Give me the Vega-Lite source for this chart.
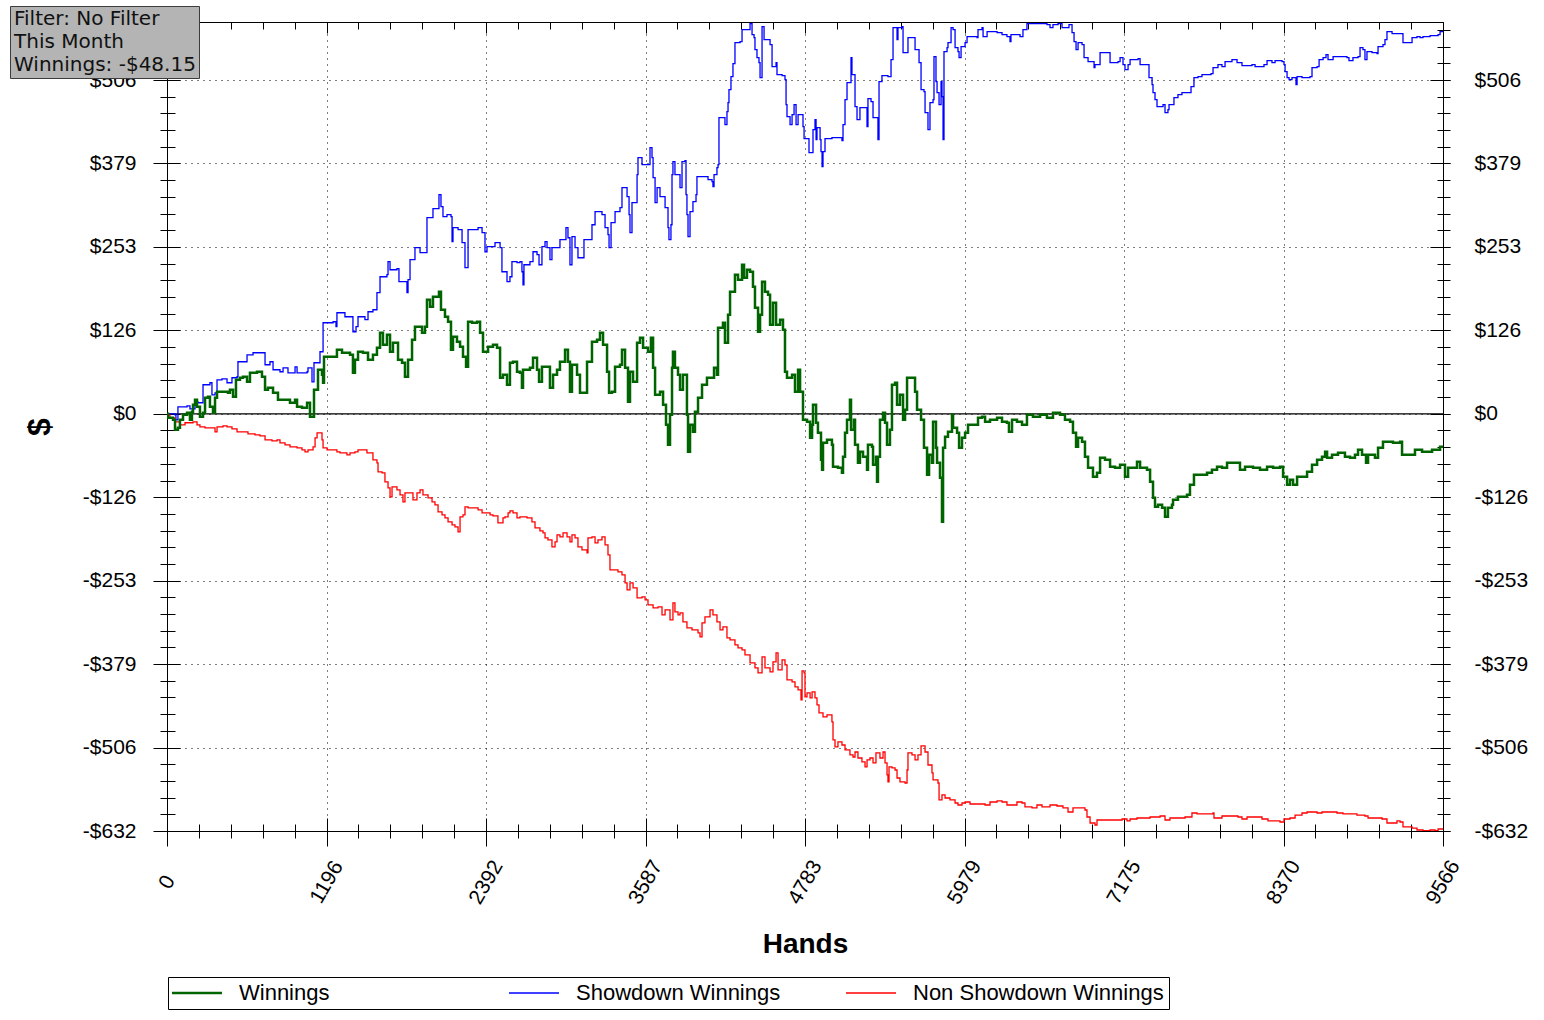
{
  "$schema": "https://vega.github.io/schema/vega-lite/v6.json",
  "width": 1276,
  "height": 809,
  "autosize": "none",
  "padding": {"left": 167, "top": 22, "right": 101, "bottom": 189},
  "background": "#ffffff",
  "datasets": {
    "sd": [
      {"h":0,"v":0},{"h":60,"v":-1.5},{"h":67,"v":-9.1},{"h":82,"v":10.6},{"h":150,"v":12.1},{"h":172,"v":7.6},{"h":210,"v":18.2},{"h":232,"v":16.7},{"h":270,"v":44.0},{"h":322,"v":47.0},{"h":337,"v":28.8},{"h":360,"v":31.8},{"h":375,"v":51.5},{"h":412,"v":53.0},{"h":450,"v":47.0},{"h":487,"v":54.6},{"h":525,"v":56.1},{"h":532,"v":78.8},{"h":570,"v":78.8},{"h":600,"v":89.4},{"h":645,"v":92.5},{"h":697,"v":92.5},{"h":735,"v":74.3},{"h":772,"v":78.8},{"h":795,"v":66.7},{"h":847,"v":63.7},{"h":870,"v":69.7},{"h":907,"v":62.1},{"h":960,"v":71.2},{"h":975,"v":62.1},{"h":1050,"v":63.7},{"h":1057,"v":69.7},{"h":1087,"v":48.5},{"h":1102,"v":77.3},{"h":1147,"v":94.0},{"h":1170,"v":137.9},{"h":1222,"v":137.9},{"h":1245,"v":139.4},{"h":1267,"v":131.9},{"h":1274,"v":153.1},{"h":1319,"v":153.1},{"h":1334,"v":147.0},{"h":1387,"v":147.0},{"h":1394,"v":124.3},{"h":1417,"v":131.9},{"h":1432,"v":147.0},{"h":1469,"v":147.0},{"h":1484,"v":142.5},{"h":1507,"v":154.6},{"h":1544,"v":157.6},{"h":1574,"v":183.4},{"h":1597,"v":207.6},{"h":1649,"v":210.7},{"h":1657,"v":230.4},{"h":1672,"v":218.2},{"h":1724,"v":219.8},{"h":1739,"v":200.1},{"h":1784,"v":200.1},{"h":1799,"v":183.4},{"h":1807,"v":203.1},{"h":1822,"v":233.4},{"h":1859,"v":251.6},{"h":1897,"v":244.0},{"h":1934,"v":244.0},{"h":1949,"v":297.1},{"h":1972,"v":297.1},{"h":1994,"v":310.7},{"h":2039,"v":331.9},{"h":2054,"v":313.7},{"h":2069,"v":298.6},{"h":2099,"v":301.6},{"h":2129,"v":298.6},{"h":2137,"v":260.7},{"h":2144,"v":281.9},{"h":2182,"v":278.9},{"h":2212,"v":259.2},{"h":2234,"v":221.3},{"h":2257,"v":278.9},{"h":2294,"v":278.9},{"h":2332,"v":281.9},{"h":2362,"v":274.3},{"h":2384,"v":245.5},{"h":2399,"v":253.1},{"h":2459,"v":259.2},{"h":2497,"v":251.6},{"h":2511,"v":215.2},{"h":2549,"v":200.1},{"h":2571,"v":207.6},{"h":2586,"v":230.4},{"h":2624,"v":228.9},{"h":2646,"v":230.4},{"h":2661,"v":215.2},{"h":2669,"v":195.5},{"h":2676,"v":225.8},{"h":2721,"v":230.4},{"h":2744,"v":245.5},{"h":2774,"v":241.0},{"h":2789,"v":225.8},{"h":2811,"v":253.1},{"h":2834,"v":260.7},{"h":2849,"v":251.6},{"h":2871,"v":233.4},{"h":2886,"v":251.6},{"h":2924,"v":251.6},{"h":2946,"v":263.7},{"h":2969,"v":263.7},{"h":2991,"v":281.9},{"h":3006,"v":266.7},{"h":3021,"v":225.8},{"h":3036,"v":268.3},{"h":3059,"v":251.6},{"h":3081,"v":236.4},{"h":3119,"v":236.4},{"h":3126,"v":263.7},{"h":3171,"v":263.7},{"h":3186,"v":286.4},{"h":3209,"v":306.2},{"h":3261,"v":301.6},{"h":3284,"v":281.9},{"h":3306,"v":271.3},{"h":3314,"v":251.6},{"h":3329,"v":289.5},{"h":3359,"v":306.2},{"h":3396,"v":312.2},{"h":3411,"v":342.5},{"h":3434,"v":342.5},{"h":3449,"v":328.9},{"h":3464,"v":301.6},{"h":3471,"v":274.3},{"h":3486,"v":319.8},{"h":3516,"v":319.8},{"h":3524,"v":362.2},{"h":3531,"v":388.0},{"h":3561,"v":377.4},{"h":3599,"v":377.4},{"h":3621,"v":403.1},{"h":3636,"v":388.0},{"h":3644,"v":357.7},{"h":3659,"v":319.8},{"h":3674,"v":342.5},{"h":3696,"v":328.9},{"h":3719,"v":328.9},{"h":3734,"v":312.2},{"h":3756,"v":281.9},{"h":3763,"v":263.7},{"h":3778,"v":286.4},{"h":3786,"v":362.2},{"h":3793,"v":381.9},{"h":3808,"v":362.2},{"h":3831,"v":362.2},{"h":3846,"v":342.5},{"h":3861,"v":381.9},{"h":3883,"v":383.4},{"h":3891,"v":331.9},{"h":3898,"v":301.6},{"h":3906,"v":268.3},{"h":3921,"v":306.2},{"h":3943,"v":321.3},{"h":3966,"v":331.9},{"h":3973,"v":359.2},{"h":4056,"v":354.7},{"h":4086,"v":351.6},{"h":4093,"v":344.0},{"h":4101,"v":362.2},{"h":4123,"v":372.8},{"h":4131,"v":377.4},{"h":4138,"v":448.6},{"h":4168,"v":448.6},{"h":4183,"v":438.0},{"h":4198,"v":457.7},{"h":4206,"v":471.4},{"h":4213,"v":491.1},{"h":4228,"v":510.8},{"h":4243,"v":530.5},{"h":4258,"v":562.3},{"h":4296,"v":563.8},{"h":4311,"v":582.0},{"h":4356,"v":582.0},{"h":4371,"v":591.0},{"h":4386,"v":574.4},{"h":4401,"v":569.9},{"h":4408,"v":551.7},{"h":4423,"v":539.6},{"h":4438,"v":532.0},{"h":4446,"v":509.2},{"h":4461,"v":586.5},{"h":4476,"v":566.8},{"h":4506,"v":566.8},{"h":4521,"v":559.3},{"h":4536,"v":525.9},{"h":4566,"v":532.0},{"h":4573,"v":513.8},{"h":4611,"v":512.3},{"h":4633,"v":506.2},{"h":4641,"v":468.3},{"h":4648,"v":450.1},{"h":4671,"v":438.0},{"h":4686,"v":453.2},{"h":4701,"v":468.3},{"h":4716,"v":438.0},{"h":4731,"v":453.2},{"h":4761,"v":453.2},{"h":4768,"v":435.0},{"h":4776,"v":416.8},{"h":4806,"v":416.8},{"h":4813,"v":395.6},{"h":4836,"v":395.6},{"h":4843,"v":430.4},{"h":4858,"v":445.6},{"h":4866,"v":415.3},{"h":4873,"v":433.5},{"h":4896,"v":415.3},{"h":4903,"v":397.1},{"h":4911,"v":374.4},{"h":4918,"v":397.1},{"h":4933,"v":416.8},{"h":4985,"v":418.3},{"h":5060,"v":413.8},{"h":5068,"v":438.0},{"h":5083,"v":475.9},{"h":5098,"v":501.7},{"h":5120,"v":501.7},{"h":5128,"v":539.6},{"h":5135,"v":513.8},{"h":5150,"v":513.8},{"h":5158,"v":465.3},{"h":5173,"v":445.6},{"h":5188,"v":445.6},{"h":5195,"v":463.8},{"h":5233,"v":463.8},{"h":5248,"v":435.0},{"h":5255,"v":477.4},{"h":5278,"v":472.9},{"h":5293,"v":448.6},{"h":5323,"v":448.6},{"h":5330,"v":415.3},{"h":5338,"v":503.2},{"h":5360,"v":512.3},{"h":5405,"v":510.8},{"h":5428,"v":536.5},{"h":5443,"v":585.0},{"h":5465,"v":585.0},{"h":5473,"v":566.8},{"h":5480,"v":585.0},{"h":5510,"v":586.5},{"h":5518,"v":547.1},{"h":5548,"v":547.1},{"h":5555,"v":569.9},{"h":5600,"v":569.9},{"h":5608,"v":551.7},{"h":5630,"v":551.7},{"h":5638,"v":532.0},{"h":5653,"v":491.1},{"h":5675,"v":488.0},{"h":5683,"v":456.2},{"h":5705,"v":430.4},{"h":5720,"v":471.4},{"h":5743,"v":475.9},{"h":5750,"v":541.1},{"h":5765,"v":503.2},{"h":5773,"v":486.5},{"h":5788,"v":468.3},{"h":5803,"v":503.2},{"h":5810,"v":480.4},{"h":5818,"v":415.3},{"h":5825,"v":548.6},{"h":5848,"v":554.7},{"h":5855,"v":562.3},{"h":5878,"v":585.0},{"h":5893,"v":582.0},{"h":5908,"v":554.7},{"h":5930,"v":548.6},{"h":5938,"v":539.6},{"h":5953,"v":556.2},{"h":5983,"v":562.3},{"h":5998,"v":571.4},{"h":6073,"v":569.9},{"h":6080,"v":582.0},{"h":6110,"v":585.0},{"h":6118,"v":571.4},{"h":6148,"v":579.0},{"h":6223,"v":577.4},{"h":6260,"v":574.4},{"h":6297,"v":571.4},{"h":6320,"v":563.8},{"h":6327,"v":574.4},{"h":6395,"v":571.4},{"h":6417,"v":582.0},{"h":6447,"v":591.0},{"h":6597,"v":589.6},{"h":6620,"v":585.0},{"h":6642,"v":589.6},{"h":6680,"v":591.0},{"h":6710,"v":585.0},{"h":6747,"v":585.0},{"h":6762,"v":589.6},{"h":6785,"v":577.4},{"h":6800,"v":563.8},{"h":6815,"v":551.7},{"h":6830,"v":562.3},{"h":6860,"v":559.3},{"h":6875,"v":539.6},{"h":6905,"v":533.5},{"h":6942,"v":533.5},{"h":6950,"v":524.4},{"h":6957,"v":528.9},{"h":6987,"v":528.9},{"h":6995,"v":547.1},{"h":7047,"v":547.1},{"h":7070,"v":532.0},{"h":7130,"v":533.5},{"h":7145,"v":539.6},{"h":7167,"v":528.9},{"h":7182,"v":521.4},{"h":7205,"v":528.9},{"h":7220,"v":536.5},{"h":7280,"v":538.0},{"h":7295,"v":528.9},{"h":7347,"v":528.9},{"h":7362,"v":509.2},{"h":7385,"v":498.6},{"h":7392,"v":486.5},{"h":7407,"v":475.9},{"h":7422,"v":465.3},{"h":7467,"v":468.3},{"h":7482,"v":456.2},{"h":7504,"v":460.7},{"h":7512,"v":468.3},{"h":7542,"v":468.3},{"h":7549,"v":478.9},{"h":7579,"v":483.5},{"h":7609,"v":486.5},{"h":7654,"v":486.5},{"h":7677,"v":495.6},{"h":7699,"v":509.2},{"h":7729,"v":510.8},{"h":7759,"v":513.8},{"h":7827,"v":515.3},{"h":7842,"v":524.4},{"h":7879,"v":528.9},{"h":7909,"v":525.9},{"h":7932,"v":533.5},{"h":7984,"v":536.5},{"h":8022,"v":532.0},{"h":8059,"v":527.4},{"h":8134,"v":528.9},{"h":8157,"v":525.9},{"h":8194,"v":525.9},{"h":8224,"v":528.9},{"h":8247,"v":535.0},{"h":8284,"v":532.0},{"h":8307,"v":535.0},{"h":8359,"v":533.5},{"h":8374,"v":528.9},{"h":8382,"v":518.3},{"h":8397,"v":509.2},{"h":8412,"v":506.2},{"h":8434,"v":509.2},{"h":8457,"v":509.2},{"h":8464,"v":498.6},{"h":8472,"v":510.8},{"h":8509,"v":509.2},{"h":8569,"v":510.8},{"h":8584,"v":524.4},{"h":8622,"v":525.9},{"h":8637,"v":536.5},{"h":8667,"v":539.6},{"h":8689,"v":544.1},{"h":8704,"v":536.5},{"h":8742,"v":541.1},{"h":8809,"v":541.1},{"h":8846,"v":539.6},{"h":8861,"v":535.0},{"h":8891,"v":539.6},{"h":8929,"v":541.1},{"h":8944,"v":554.7},{"h":8966,"v":551.7},{"h":8981,"v":536.5},{"h":8996,"v":548.6},{"h":9034,"v":547.1},{"h":9071,"v":545.6},{"h":9079,"v":556.2},{"h":9116,"v":559.3},{"h":9131,"v":566.8},{"h":9146,"v":579.0},{"h":9184,"v":575.9},{"h":9259,"v":575.9},{"h":9266,"v":562.3},{"h":9319,"v":562.3},{"h":9334,"v":569.9},{"h":9371,"v":571.4},{"h":9394,"v":569.9},{"h":9416,"v":571.4},{"h":9469,"v":572.9},{"h":9529,"v":574.4},{"h":9544,"v":579.0},{"h":9566,"v":580.5}
    ],
    "win": [
      {"h":0,"v":0},{"h":7,"v":-6.1},{"h":45,"v":-9.1},{"h":60,"v":-24.2},{"h":82,"v":-21.2},{"h":97,"v":-9.1},{"h":120,"v":-1.5},{"h":150,"v":1.5},{"h":172,"v":-9.1},{"h":187,"v":3.0},{"h":195,"v":13.6},{"h":210,"v":21.2},{"h":225,"v":10.6},{"h":247,"v":-4.5},{"h":270,"v":1.5},{"h":285,"v":24.2},{"h":307,"v":25.8},{"h":322,"v":10.6},{"h":345,"v":1.5},{"h":360,"v":24.2},{"h":375,"v":33.3},{"h":420,"v":33.3},{"h":457,"v":31.8},{"h":472,"v":36.4},{"h":495,"v":25.8},{"h":517,"v":51.5},{"h":547,"v":54.6},{"h":570,"v":56.1},{"h":600,"v":48.5},{"h":622,"v":62.1},{"h":675,"v":63.7},{"h":712,"v":56.1},{"h":735,"v":36.4},{"h":757,"v":39.4},{"h":795,"v":31.8},{"h":832,"v":21.2},{"h":870,"v":21.2},{"h":922,"v":16.7},{"h":960,"v":21.2},{"h":975,"v":10.6},{"h":1012,"v":9.1},{"h":1050,"v":16.7},{"h":1072,"v":-4.5},{"h":1095,"v":-4.5},{"h":1102,"v":36.4},{"h":1132,"v":66.7},{"h":1162,"v":59.1},{"h":1170,"v":47.0},{"h":1177,"v":86.4},{"h":1222,"v":86.4},{"h":1274,"v":97.0},{"h":1312,"v":92.5},{"h":1372,"v":89.4},{"h":1394,"v":62.1},{"h":1409,"v":81.8},{"h":1432,"v":94.0},{"h":1469,"v":92.5},{"h":1507,"v":81.8},{"h":1544,"v":89.4},{"h":1574,"v":100.0},{"h":1597,"v":122.8},{"h":1619,"v":104.6},{"h":1649,"v":119.7},{"h":1672,"v":94.0},{"h":1694,"v":107.6},{"h":1732,"v":81.8},{"h":1762,"v":77.3},{"h":1784,"v":56.1},{"h":1807,"v":81.8},{"h":1837,"v":112.2},{"h":1859,"v":131.9},{"h":1912,"v":122.8},{"h":1934,"v":131.9},{"h":1949,"v":172.8},{"h":1972,"v":162.2},{"h":1994,"v":177.3},{"h":2039,"v":184.9},{"h":2054,"v":157.6},{"h":2084,"v":147.0},{"h":2107,"v":139.4},{"h":2129,"v":97.0},{"h":2144,"v":116.7},{"h":2174,"v":109.1},{"h":2197,"v":101.5},{"h":2219,"v":86.4},{"h":2242,"v":71.2},{"h":2257,"v":139.4},{"h":2287,"v":137.9},{"h":2324,"v":139.4},{"h":2347,"v":122.8},{"h":2369,"v":94.0},{"h":2407,"v":101.5},{"h":2444,"v":104.6},{"h":2474,"v":100.0},{"h":2497,"v":54.6},{"h":2519,"v":59.1},{"h":2549,"v":44.0},{"h":2571,"v":77.3},{"h":2594,"v":78.8},{"h":2624,"v":63.7},{"h":2646,"v":62.1},{"h":2661,"v":39.4},{"h":2669,"v":66.7},{"h":2721,"v":69.7},{"h":2744,"v":84.9},{"h":2774,"v":66.7},{"h":2789,"v":48.5},{"h":2811,"v":71.2},{"h":2849,"v":71.2},{"h":2871,"v":39.4},{"h":2894,"v":59.1},{"h":2924,"v":66.7},{"h":2946,"v":78.8},{"h":2984,"v":97.0},{"h":3006,"v":78.8},{"h":3021,"v":33.3},{"h":3036,"v":74.3},{"h":3074,"v":59.1},{"h":3096,"v":31.8},{"h":3119,"v":31.8},{"h":3149,"v":78.8},{"h":3186,"v":109.1},{"h":3224,"v":112.2},{"h":3246,"v":122.8},{"h":3269,"v":104.6},{"h":3299,"v":63.7},{"h":3314,"v":31.8},{"h":3336,"v":33.3},{"h":3359,"v":71.2},{"h":3396,"v":74.3},{"h":3411,"v":97.0},{"h":3434,"v":69.7},{"h":3456,"v":18.2},{"h":3471,"v":63.7},{"h":3494,"v":48.5},{"h":3524,"v":107.6},{"h":3546,"v":115.2},{"h":3569,"v":100.0},{"h":3606,"v":94.0},{"h":3628,"v":115.2},{"h":3644,"v":69.7},{"h":3659,"v":28.8},{"h":3696,"v":33.3},{"h":3719,"v":13.6},{"h":3741,"v":-16.7},{"h":3756,"v":-47.0},{"h":3771,"v":-1.5},{"h":3786,"v":69.7},{"h":3793,"v":94.0},{"h":3808,"v":69.7},{"h":3831,"v":59.1},{"h":3846,"v":36.4},{"h":3868,"v":59.1},{"h":3898,"v":-1.5},{"h":3906,"v":-57.6},{"h":3921,"v":-16.7},{"h":3943,"v":-27.3},{"h":3958,"v":3.0},{"h":3981,"v":24.2},{"h":4011,"v":44.0},{"h":4048,"v":54.6},{"h":4086,"v":54.6},{"h":4101,"v":69.7},{"h":4123,"v":59.1},{"h":4131,"v":130.3},{"h":4168,"v":137.9},{"h":4183,"v":107.6},{"h":4206,"v":150.0},{"h":4221,"v":184.9},{"h":4243,"v":184.9},{"h":4258,"v":210.7},{"h":4281,"v":203.1},{"h":4311,"v":225.8},{"h":4326,"v":206.1},{"h":4348,"v":218.2},{"h":4371,"v":215.2},{"h":4393,"v":192.5},{"h":4408,"v":160.7},{"h":4431,"v":124.3},{"h":4446,"v":150.0},{"h":4461,"v":200.1},{"h":4483,"v":184.9},{"h":4506,"v":180.4},{"h":4521,"v":134.9},{"h":4543,"v":168.2},{"h":4566,"v":134.9},{"h":4596,"v":142.5},{"h":4618,"v":127.3},{"h":4633,"v":63.7},{"h":4648,"v":54.6},{"h":4686,"v":59.1},{"h":4708,"v":33.3},{"h":4731,"v":66.7},{"h":4746,"v":33.3},{"h":4768,"v":-9.1},{"h":4798,"v":-12.1},{"h":4821,"v":-36.4},{"h":4836,"v":-16.7},{"h":4843,"v":13.6},{"h":4866,"v":-13.6},{"h":4880,"v":-28.8},{"h":4903,"v":-69.7},{"h":4911,"v":-84.9},{"h":4918,"v":-44.0},{"h":4948,"v":-39.4},{"h":4985,"v":-47.0},{"h":4993,"v":-80.3},{"h":5030,"v":-81.8},{"h":5060,"v":-89.4},{"h":5068,"v":-65.2},{"h":5083,"v":-28.8},{"h":5098,"v":-9.1},{"h":5120,"v":21.2},{"h":5128,"v":-24.2},{"h":5150,"v":-9.1},{"h":5158,"v":-47.0},{"h":5180,"v":-74.3},{"h":5195,"v":-57.6},{"h":5218,"v":-65.2},{"h":5248,"v":-84.9},{"h":5255,"v":-47.0},{"h":5285,"v":-50.0},{"h":5293,"v":-77.3},{"h":5315,"v":-65.2},{"h":5323,"v":-103.1},{"h":5330,"v":-65.2},{"h":5345,"v":-9.1},{"h":5368,"v":1.5},{"h":5383,"v":-13.6},{"h":5398,"v":-47.0},{"h":5420,"v":-24.2},{"h":5435,"v":44.0},{"h":5458,"v":47.0},{"h":5473,"v":13.6},{"h":5495,"v":28.8},{"h":5518,"v":-9.1},{"h":5533,"v":6.1},{"h":5548,"v":54.6},{"h":5585,"v":54.6},{"h":5608,"v":33.3},{"h":5623,"v":6.1},{"h":5653,"v":-9.1},{"h":5675,"v":-51.5},{"h":5698,"v":-92.5},{"h":5713,"v":-62.1},{"h":5735,"v":-74.3},{"h":5743,"v":-12.1},{"h":5765,"v":-51.5},{"h":5773,"v":-74.3},{"h":5795,"v":-97.0},{"h":5810,"v":-163.7},{"h":5818,"v":-51.5},{"h":5833,"v":-34.9},{"h":5855,"v":-27.3},{"h":5885,"v":-1.5},{"h":5893,"v":-21.2},{"h":5923,"v":-28.8},{"h":5938,"v":-51.5},{"h":5960,"v":-36.4},{"h":5983,"v":-28.8},{"h":6005,"v":-16.7},{"h":6043,"v":-16.7},{"h":6080,"v":-6.1},{"h":6110,"v":-4.5},{"h":6133,"v":-12.1},{"h":6170,"v":-9.1},{"h":6223,"v":-6.1},{"h":6260,"v":-12.1},{"h":6297,"v":-13.6},{"h":6312,"v":-27.3},{"h":6335,"v":-9.1},{"h":6372,"v":-12.1},{"h":6410,"v":-16.7},{"h":6447,"v":-1.5},{"h":6492,"v":-4.5},{"h":6545,"v":-1.5},{"h":6597,"v":-6.1},{"h":6642,"v":1.5},{"h":6695,"v":-1.5},{"h":6732,"v":-9.1},{"h":6770,"v":-12.1},{"h":6792,"v":-28.8},{"h":6815,"v":-50.0},{"h":6830,"v":-36.4},{"h":6860,"v":-42.4},{"h":6882,"v":-65.2},{"h":6905,"v":-81.8},{"h":6942,"v":-95.5},{"h":6972,"v":-89.4},{"h":6995,"v":-66.7},{"h":7032,"v":-69.7},{"h":7070,"v":-80.3},{"h":7107,"v":-81.8},{"h":7145,"v":-77.3},{"h":7182,"v":-95.5},{"h":7205,"v":-81.8},{"h":7272,"v":-72.7},{"h":7295,"v":-81.8},{"h":7347,"v":-84.9},{"h":7370,"v":-103.1},{"h":7392,"v":-127.3},{"h":7407,"v":-141.0},{"h":7430,"v":-137.9},{"h":7460,"v":-142.5},{"h":7482,"v":-156.1},{"h":7504,"v":-142.5},{"h":7534,"v":-137.9},{"h":7542,"v":-130.3},{"h":7579,"v":-125.8},{"h":7647,"v":-122.8},{"h":7669,"v":-107.6},{"h":7699,"v":-92.5},{"h":7744,"v":-92.5},{"h":7797,"v":-89.4},{"h":7834,"v":-84.9},{"h":7872,"v":-80.3},{"h":7909,"v":-81.8},{"h":7947,"v":-74.3},{"h":7992,"v":-74.3},{"h":8044,"v":-84.9},{"h":8082,"v":-80.3},{"h":8142,"v":-81.8},{"h":8194,"v":-84.9},{"h":8247,"v":-80.3},{"h":8292,"v":-81.8},{"h":8344,"v":-80.3},{"h":8367,"v":-95.5},{"h":8397,"v":-107.6},{"h":8419,"v":-100.0},{"h":8442,"v":-107.6},{"h":8472,"v":-95.5},{"h":8517,"v":-95.5},{"h":8547,"v":-87.9},{"h":8584,"v":-77.3},{"h":8622,"v":-69.7},{"h":8659,"v":-65.2},{"h":8682,"v":-57.6},{"h":8697,"v":-66.7},{"h":8734,"v":-62.1},{"h":8779,"v":-59.1},{"h":8831,"v":-65.2},{"h":8869,"v":-66.7},{"h":8906,"v":-62.1},{"h":8929,"v":-54.6},{"h":8959,"v":-62.1},{"h":8989,"v":-74.3},{"h":9004,"v":-62.1},{"h":9056,"v":-66.7},{"h":9079,"v":-51.5},{"h":9116,"v":-42.4},{"h":9146,"v":-42.4},{"h":9191,"v":-44.0},{"h":9244,"v":-42.4},{"h":9259,"v":-62.1},{"h":9319,"v":-62.1},{"h":9356,"v":-54.6},{"h":9409,"v":-57.6},{"h":9454,"v":-57.6},{"h":9484,"v":-54.6},{"h":9529,"v":-54.6},{"h":9544,"v":-50.0},{"h":9566,"v":-48.15}
    ],
    "nsd": [
      {"h":0,"v":-1.5},{"h":22,"v":-6.1},{"h":60,"v":-12.1},{"h":97,"v":-16.7},{"h":135,"v":-13.6},{"h":172,"v":-13.6},{"h":195,"v":-12.1},{"h":225,"v":-16.7},{"h":247,"v":-19.7},{"h":285,"v":-21.2},{"h":337,"v":-21.2},{"h":360,"v":-27.3},{"h":375,"v":-19.7},{"h":420,"v":-18.2},{"h":450,"v":-19.7},{"h":487,"v":-22.7},{"h":525,"v":-27.3},{"h":570,"v":-27.3},{"h":607,"v":-30.3},{"h":660,"v":-31.8},{"h":697,"v":-33.3},{"h":735,"v":-39.4},{"h":787,"v":-40.9},{"h":825,"v":-39.4},{"h":847,"v":-44.0},{"h":885,"v":-47.0},{"h":922,"v":-50.0},{"h":975,"v":-51.5},{"h":1012,"v":-54.6},{"h":1035,"v":-57.6},{"h":1057,"v":-54.6},{"h":1095,"v":-50.0},{"h":1110,"v":-36.4},{"h":1125,"v":-28.8},{"h":1147,"v":-28.8},{"h":1162,"v":-39.4},{"h":1170,"v":-51.5},{"h":1200,"v":-54.6},{"h":1237,"v":-54.6},{"h":1274,"v":-57.6},{"h":1297,"v":-59.1},{"h":1334,"v":-59.1},{"h":1349,"v":-62.1},{"h":1372,"v":-59.1},{"h":1409,"v":-57.6},{"h":1432,"v":-54.6},{"h":1469,"v":-54.6},{"h":1499,"v":-59.1},{"h":1544,"v":-69.7},{"h":1574,"v":-74.3},{"h":1582,"v":-87.9},{"h":1612,"v":-89.4},{"h":1634,"v":-103.1},{"h":1657,"v":-112.2},{"h":1672,"v":-125.8},{"h":1687,"v":-110.6},{"h":1724,"v":-115.2},{"h":1747,"v":-122.8},{"h":1769,"v":-133.4},{"h":1784,"v":-119.7},{"h":1837,"v":-119.7},{"h":1844,"v":-130.3},{"h":1874,"v":-119.7},{"h":1897,"v":-115.2},{"h":1919,"v":-122.8},{"h":1957,"v":-127.3},{"h":1987,"v":-133.4},{"h":2009,"v":-137.9},{"h":2032,"v":-148.5},{"h":2062,"v":-153.1},{"h":2084,"v":-157.6},{"h":2107,"v":-163.7},{"h":2137,"v":-168.2},{"h":2159,"v":-171.3},{"h":2182,"v":-178.8},{"h":2197,"v":-156.1},{"h":2219,"v":-153.1},{"h":2234,"v":-141.0},{"h":2257,"v":-142.5},{"h":2309,"v":-142.5},{"h":2332,"v":-145.5},{"h":2362,"v":-150.0},{"h":2399,"v":-150.0},{"h":2422,"v":-153.1},{"h":2444,"v":-154.6},{"h":2481,"v":-165.2},{"h":2511,"v":-165.2},{"h":2519,"v":-157.6},{"h":2534,"v":-156.1},{"h":2557,"v":-150.0},{"h":2571,"v":-147.0},{"h":2594,"v":-150.0},{"h":2624,"v":-157.6},{"h":2646,"v":-156.1},{"h":2699,"v":-157.6},{"h":2736,"v":-163.7},{"h":2759,"v":-172.8},{"h":2796,"v":-177.3},{"h":2819,"v":-180.4},{"h":2834,"v":-187.9},{"h":2856,"v":-191.0},{"h":2886,"v":-201.6},{"h":2909,"v":-194.0},{"h":2924,"v":-183.4},{"h":2946,"v":-186.4},{"h":2969,"v":-180.4},{"h":2999,"v":-186.4},{"h":3021,"v":-194.0},{"h":3036,"v":-183.4},{"h":3059,"v":-187.9},{"h":3081,"v":-201.6},{"h":3111,"v":-206.1},{"h":3149,"v":-210.7},{"h":3156,"v":-187.9},{"h":3186,"v":-186.4},{"h":3209,"v":-195.5},{"h":3231,"v":-191.0},{"h":3261,"v":-186.4},{"h":3284,"v":-198.5},{"h":3306,"v":-213.7},{"h":3321,"v":-236.4},{"h":3344,"v":-236.4},{"h":3381,"v":-239.5},{"h":3411,"v":-244.0},{"h":3434,"v":-256.1},{"h":3449,"v":-266.7},{"h":3471,"v":-256.1},{"h":3494,"v":-263.7},{"h":3524,"v":-278.9},{"h":3561,"v":-277.4},{"h":3584,"v":-281.9},{"h":3606,"v":-289.5},{"h":3644,"v":-294.0},{"h":3681,"v":-292.5},{"h":3711,"v":-304.6},{"h":3734,"v":-297.1},{"h":3771,"v":-312.2},{"h":3793,"v":-286.4},{"h":3808,"v":-300.1},{"h":3831,"v":-304.6},{"h":3846,"v":-301.6},{"h":3868,"v":-315.2},{"h":3898,"v":-324.3},{"h":3936,"v":-327.4},{"h":3958,"v":-327.4},{"h":3981,"v":-331.9},{"h":3996,"v":-338.0},{"h":4011,"v":-316.8},{"h":4033,"v":-307.7},{"h":4071,"v":-297.1},{"h":4093,"v":-304.6},{"h":4123,"v":-315.2},{"h":4146,"v":-327.4},{"h":4168,"v":-322.8},{"h":4198,"v":-339.5},{"h":4221,"v":-342.5},{"h":4258,"v":-350.1},{"h":4281,"v":-354.7},{"h":4311,"v":-357.7},{"h":4333,"v":-365.3},{"h":4371,"v":-377.4},{"h":4408,"v":-385.0},{"h":4431,"v":-392.5},{"h":4461,"v":-368.3},{"h":4483,"v":-385.0},{"h":4521,"v":-391.0},{"h":4543,"v":-375.9},{"h":4566,"v":-362.2},{"h":4581,"v":-388.0},{"h":4611,"v":-372.8},{"h":4633,"v":-380.4},{"h":4648,"v":-403.1},{"h":4686,"v":-406.2},{"h":4708,"v":-413.8},{"h":4731,"v":-418.3},{"h":4753,"v":-433.5},{"h":4761,"v":-389.5},{"h":4776,"v":-392.5},{"h":4783,"v":-428.9},{"h":4798,"v":-422.9},{"h":4821,"v":-430.4},{"h":4836,"v":-421.3},{"h":4858,"v":-430.4},{"h":4873,"v":-441.0},{"h":4888,"v":-453.2},{"h":4918,"v":-459.2},{"h":4948,"v":-456.2},{"h":4985,"v":-466.8},{"h":4993,"v":-494.1},{"h":5008,"v":-504.7},{"h":5030,"v":-497.1},{"h":5060,"v":-501.7},{"h":5083,"v":-509.2},{"h":5120,"v":-516.8},{"h":5143,"v":-519.9},{"h":5158,"v":-512.3},{"h":5180,"v":-521.4},{"h":5210,"v":-527.4},{"h":5233,"v":-535.0},{"h":5248,"v":-524.4},{"h":5270,"v":-521.4},{"h":5293,"v":-528.9},{"h":5315,"v":-513.8},{"h":5345,"v":-521.4},{"h":5368,"v":-512.3},{"h":5383,"v":-528.9},{"h":5398,"v":-547.1},{"h":5405,"v":-557.7},{"h":5413,"v":-535.0},{"h":5435,"v":-536.5},{"h":5458,"v":-539.6},{"h":5473,"v":-551.7},{"h":5495,"v":-557.7},{"h":5533,"v":-559.3},{"h":5548,"v":-539.6},{"h":5555,"v":-513.8},{"h":5585,"v":-516.8},{"h":5608,"v":-524.4},{"h":5630,"v":-516.8},{"h":5653,"v":-503.2},{"h":5683,"v":-512.3},{"h":5705,"v":-532.0},{"h":5735,"v":-544.1},{"h":5743,"v":-554.7},{"h":5773,"v":-554.7},{"h":5780,"v":-559.3},{"h":5788,"v":-585.0},{"h":5810,"v":-577.4},{"h":5833,"v":-582.0},{"h":5870,"v":-585.0},{"h":5908,"v":-589.6},{"h":5930,"v":-592.6},{"h":5960,"v":-589.6},{"h":5983,"v":-588.1},{"h":6020,"v":-591.1},{"h":6095,"v":-591.1},{"h":6133,"v":-592.6},{"h":6170,"v":-588.1},{"h":6223,"v":-586.5},{"h":6260,"v":-588.1},{"h":6297,"v":-592.6},{"h":6335,"v":-592.6},{"h":6372,"v":-588.1},{"h":6410,"v":-589.6},{"h":6432,"v":-595.6},{"h":6485,"v":-597.1},{"h":6522,"v":-592.6},{"h":6560,"v":-595.6},{"h":6620,"v":-592.6},{"h":6672,"v":-594.1},{"h":6717,"v":-597.1},{"h":6755,"v":-603.2},{"h":6792,"v":-597.1},{"h":6845,"v":-597.1},{"h":6882,"v":-600.2},{"h":6897,"v":-610.8},{"h":6920,"v":-619.9},{"h":6957,"v":-622.9},{"h":6972,"v":-615.3},{"h":7047,"v":-615.3},{"h":7122,"v":-615.3},{"h":7160,"v":-613.8},{"h":7197,"v":-616.8},{"h":7220,"v":-613.8},{"h":7272,"v":-612.3},{"h":7370,"v":-610.8},{"h":7445,"v":-609.3},{"h":7482,"v":-615.3},{"h":7519,"v":-612.3},{"h":7572,"v":-612.3},{"h":7632,"v":-610.8},{"h":7684,"v":-604.7},{"h":7722,"v":-606.2},{"h":7842,"v":-604.7},{"h":7849,"v":-612.3},{"h":7909,"v":-609.3},{"h":8029,"v":-610.8},{"h":8059,"v":-613.8},{"h":8097,"v":-610.8},{"h":8157,"v":-610.8},{"h":8209,"v":-613.8},{"h":8254,"v":-616.8},{"h":8344,"v":-618.4},{"h":8374,"v":-613.8},{"h":8419,"v":-612.3},{"h":8457,"v":-607.8},{"h":8509,"v":-604.7},{"h":8547,"v":-603.2},{"h":8622,"v":-604.7},{"h":8659,"v":-603.2},{"h":8771,"v":-604.7},{"h":8816,"v":-606.2},{"h":8921,"v":-607.8},{"h":8981,"v":-609.3},{"h":9004,"v":-612.3},{"h":9109,"v":-613.8},{"h":9146,"v":-619.9},{"h":9184,"v":-619.9},{"h":9221,"v":-616.8},{"h":9244,"v":-618.4},{"h":9266,"v":-625.9},{"h":9334,"v":-627.5},{"h":9371,"v":-630.5},{"h":9416,"v":-631.5},{"h":9469,"v":-630.5},{"h":9506,"v":-631.5},{"h":9529,"v":-629.0},{"h":9566,"v":-628.7}
    ],
    "info": [
      {"t": "Filter: No Filter"},
      {"t": "This Month"},
      {"t": "Winnings: -$48.15"}
    ]
  },
  "resolve": {"axis": {"x": "independent", "y": "independent"}},
  "layer": [
    {
      "data": {"values": [{}]},
      "mark": {"type": "rule", "color": "#000000", "strokeWidth": 1.3, "clip": true},
      "encoding": {
        "y": {"datum": 0, "type": "quantitative", "axis": null, "scale": {"domain": [-632, 593.5], "nice": false, "zero": false}}
      }
    },
    {
      "data": {"name": "sd"},
      "mark": {"type": "line", "interpolate": "step-after", "strokeWidth": 1.3, "clip": true},
      "encoding": {
        "x": {"field": "h", "type": "quantitative", "scale": {"domain": [0, 9566], "nice": false, "zero": false},
          "axis": {"orient": "bottom", "values": [0,239.15,478.3,717.45,956.6,1195.75,1434.9,1674.05,1913.2,2152.35,2391.5,2630.65,2869.8,3108.95,3348.1,3587.25,3826.4,4065.55,4304.7,4543.85,4783,5022.15,5261.3,5500.45,5739.6,5978.75,6217.9,6457.05,6696.2,6935.35,7174.5,7413.65,7652.8,7891.95,8131.1,8370.25,8609.4,8848.55,9087.7,9326.85,9566], "offset": -7, "tickSize": 14, "labels": false, "grid": false, "title": null}},
        "y": {"field": "v", "type": "quantitative", "scale": {"domain": [-632, 593.5], "nice": false, "zero": false},
          "axis": {"orient": "left", "values": [-632,-606.72,-581.44,-556.16,-530.88,-505.6,-480.32,-455.04,-429.76,-404.48,-379.2,-353.92,-328.64,-303.36,-278.08,-252.8,-227.52,-202.24,-176.96,-151.68,-126.4,-101.12,-75.84,-50.56,-25.28,0,25.28,50.56,75.84,101.12,126.4,151.68,176.96,202.24,227.52,252.8,278.08,303.36,328.64,353.92,379.2,404.48,429.76,455.04,480.32,505.6,530.88,556.16,581.44], "offset": -8, "tickSize": 15, "labels": false, "grid": false, "title": null}},
        "color": {"datum": "Showdown Winnings", "type": "nominal"}
      }
    },
    {
      "data": {"name": "nsd"},
      "mark": {"type": "line", "interpolate": "step-after", "strokeWidth": 1.3, "clip": true},
      "encoding": {
        "x": {"field": "h", "type": "quantitative", "scale": {"domain": [0, 9566], "nice": false, "zero": false},
          "axis": {"orient": "top", "values": [0,1195.75,2391.5,3587.25,4783,5978.75,7174.5,8370.25,9566], "offset": -11, "tickSize": 11, "labels": false, "grid": false, "title": null}},
        "y": {"field": "v", "type": "quantitative", "scale": {"domain": [-632, 593.5], "nice": false, "zero": false},
          "axis": {"orient": "right", "values": [-632,-505.6,-379.2,-252.8,-126.4,0,126.4,252.8,379.2,505.6], "offset": -13, "tickSize": 20, "labelPadding": 24, "labelExpr": "(datum.value < 0 ? '-$' : '$') + format(abs(datum.value), '.0f')", "grid": false, "title": null}},
        "color": {"datum": "Non Showdown Winnings", "type": "nominal"}
      }
    },
    {
      "data": {"name": "win"},
      "mark": {"type": "line", "interpolate": "step-after", "strokeWidth": 2.5, "clip": true},
      "encoding": {
        "x": {"field": "h", "type": "quantitative", "scale": {"domain": [0, 9566], "nice": false, "zero": false},
          "axis": {"orient": "bottom", "values": [0,1195.75,2391.5,3587.25,4783,5978.75,7174.5,8370.25,9566], "offset": -13, "tickSize": 28, "labelExpr": "format(datum.value, '.0f')", "labelAngle": -60, "labelAlign": "center", "labelBaseline": "middle", "labelPadding": 36, "grid": true, "title": "Hands", "titleFontSize": 28, "titleFontWeight": "bold", "titlePadding": 23}},
        "y": {"field": "v", "type": "quantitative", "scale": {"domain": [-632, 593.5], "nice": false, "zero": false},
          "axis": {"orient": "left", "values": [-632,-505.6,-379.2,-252.8,-126.4,0,126.4,252.8,379.2,505.6], "offset": -13, "tickSize": 27, "labelPadding": 17, "labelExpr": "(datum.value < 0 ? '-$' : '$') + format(abs(datum.value), '.0f')", "grid": true, "title": "$", "titleFontSize": 32, "titleFontWeight": "bold", "titlePadding": 26}},
        "color": {
          "datum": "Winnings", "type": "nominal",
          "scale": {"domain": ["Winnings", "Showdown Winnings", "Non Showdown Winnings"], "range": ["#006400", "#0000ff", "#ff0000"]},
          "legend": {
            "orient": "none", "legendX": 1, "legendY": 955, "direction": "horizontal", "columns": 3, "gridAlign": "all",
            "title": null, "symbolType": "stroke", "symbolSize": 2500, "symbolStrokeWidth": 1, "symbolOffset": 13,
            "labelFont": "Liberation Sans", "labelFontSize": 22, "labelColor": "#000000", "labelOffset": 31, "labelLimit": 400,
            "columnPadding": 16, "padding": 5, "strokeColor": "#000000", "fillColor": "#ffffff",
            "encode": {"symbols": {"update": {"strokeWidth": {"signal": "datum.value === 'Winnings' ? 2.5 : 1.3"}}}}
          }
        }
      }
    },
    {
      "data": {"name": "info"},
      "mark": {"type": "point", "opacity": 0},
      "encoding": {
        "x": {"datum": 0, "type": "quantitative", "scale": {"domain": [0, 9566], "nice": false, "zero": false},
          "axis": {"orient": "top", "values": [0,239.15,478.3,717.45,956.6,1195.75,1434.9,1674.05,1913.2,2152.35,2391.5,2630.65,2869.8,3108.95,3348.1,3587.25,3826.4,4065.55,4304.7,4543.85,4783,5022.15,5261.3,5500.45,5739.6,5978.75,6217.9,6457.05,6696.2,6935.35,7174.5,7413.65,7652.8,7891.95,8131.1,8370.25,8609.4,8848.55,9087.7,9326.85,9566], "offset": -7, "tickSize": 7, "labels": false, "grid": false, "title": null}},
        "y": {"datum": 0, "type": "quantitative", "scale": {"domain": [-632, 593.5], "nice": false, "zero": false},
          "axis": {"orient": "right", "values": [-632,-606.72,-581.44,-556.16,-530.88,-505.6,-480.32,-455.04,-429.76,-404.48,-379.2,-353.92,-328.64,-303.36,-278.08,-252.8,-227.52,-202.24,-176.96,-151.68,-126.4,-101.12,-75.84,-50.56,-25.28,0,25.28,50.56,75.84,101.12,126.4,151.68,176.96,202.24,227.52,252.8,278.08,303.36,328.64,353.92,379.2,404.48,429.76,455.04,480.32,505.6,530.88,556.16,581.44], "offset": -6, "tickSize": 13, "labels": false, "grid": false, "title": null}},
        "shape": {
          "field": "t", "type": "nominal", "sort": null,
          "legend": {
            "orient": "none", "legendX": -157, "legendY": -16, "title": null,
            "fillColor": "#b4b4b4", "strokeColor": "#3c3c3c", "padding": 3,
            "labelFont": "DejaVu Sans", "labelFontSize": 20, "labelColor": "#111111", "labelLimit": 400, "labelOffset": -19,
            "symbolSize": 1, "symbolOpacity": 0, "symbolStrokeWidth": 0, "rowPadding": 3
          }
        }
      }
    }
  ],
  "config": {
    "view": {"stroke": "#000000", "strokeWidth": 1},
    "axis": {
      "domain": false,
      "labelFont": "Liberation Sans", "labelFontSize": 21, "labelColor": "#000000",
      "labelFlush": false, "labelOverlap": false,
      "tickColor": "#000000", "tickWidth": 1,
      "gridColor": "#000000", "gridDash": [1, 5], "gridOpacity": 1, "gridWidth": 1,
      "titleFont": "Liberation Sans", "titleColor": "#000000"
    }
  }
}
